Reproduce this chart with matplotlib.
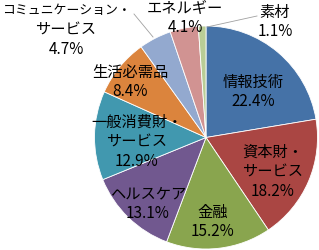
import matplotlib
matplotlib.use('Agg')
import matplotlib.pyplot as plt

# データ
sectors = ['情報技術', '資本財・\nサービス', '金融', 'ヘルスケア', '一般消費財・\nサービス',
           '生活必需品', 'コミュニケーション・\nサービス', 'エネルギー', '素材']
shares = [22.4, 18.2, 15.2, 13.1, 12.9, 8.4, 4.7, 4.1, 1.1]
colors = ['#4572A7', '#AA4643', '#89A54E', '#71588F', '#4198AF',
          '#DB843D', '#93A9CF', '#D19392', '#B9CD96']

plt.rcParams['font.family'] = ['Noto Sans CJK JP', 'DejaVu Sans']

W, H = 319, 251
fig = plt.figure(figsize=(W / 100, H / 100), dpi=100)
cx, cy, r = 206, 138.5, 111.5
ax = fig.add_axes([(cx - r) / W, (H - cy - r) / H, 2 * r / W, 2 * r / H])

ax.pie(shares, colors=colors, startangle=90, counterclock=False,
       wedgeprops=dict(edgecolor='white', linewidth=0.6))
ax.set_xlim(-1, 1)
ax.set_ylim(-1, 1)


def px(x, y):
    # ピクセル座標 -> データ座標
    return (x - cx) / r, (cy - y) / r


# ラベル位置 (ピクセル, 中心)
label_pos = [(253, 92), (273, 172), (213, 222), (148, 204), (137, 142),
             (130, 82), (66, 30), (185, 18), (275, 22)]
line_h = 20

for name, val, (x, y) in zip(sectors, shares, label_pos):
    lines = name.split('\n') + [f'{val}%']
    n = len(lines)
    for i, s in enumerate(lines):
        fs = 11 if len(s) < 9 else 9.3
        tx, ty = px(x, y + (i - (n - 1) / 2) * line_h)
        ax.text(tx, ty, s, ha='center', va='center', fontsize=fs, clip_on=False)

# 引き出し線
for (x0, y0), (x1, y1) in [((134, 15), (153, 38)), ((207, 28), (257, 17))]:
    a, b = px(x0, y0)
    c, d = px(x1, y1)
    ax.plot([a, c], [b, d], color='#A0A0A0', lw=0.6, clip_on=False)

fig.savefig('out.png', dpi=100)
